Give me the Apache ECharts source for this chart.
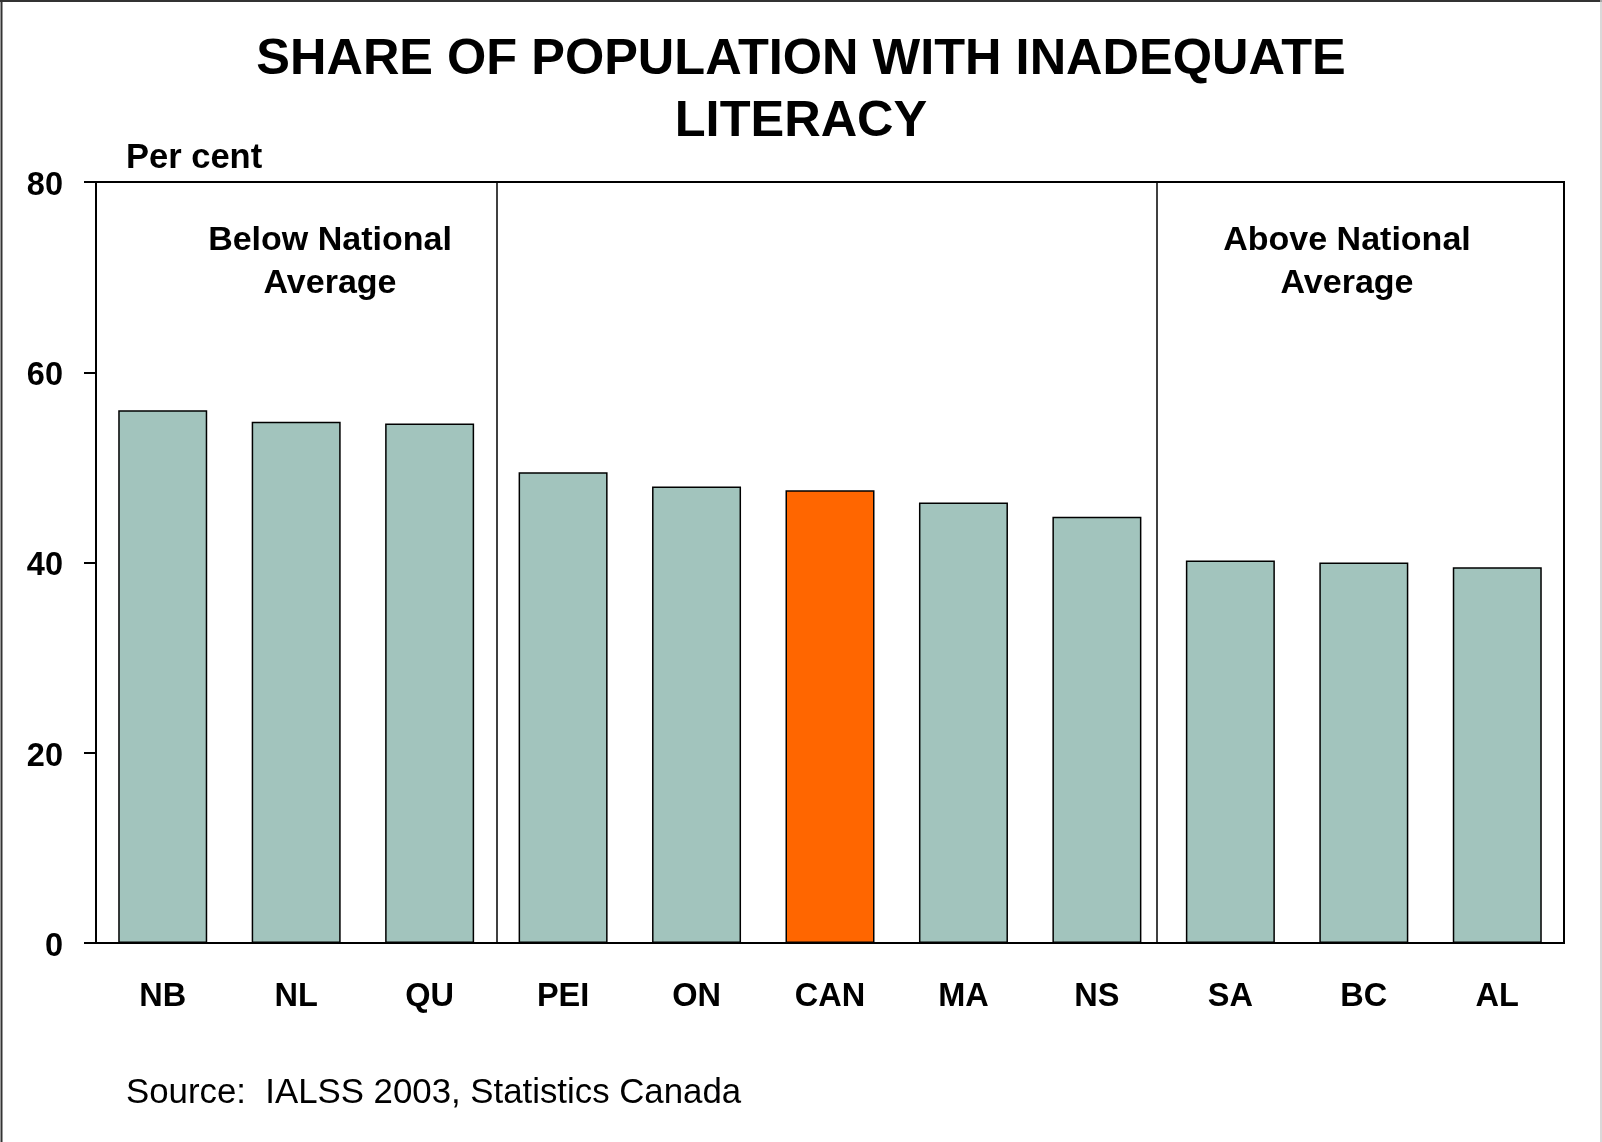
<!DOCTYPE html>
<html>
<head>
<meta charset="utf-8">
<title>Share of population with inadequate literacy</title>
<script src="https://cdn.jsdelivr.net/npm/echarts@6/dist/echarts.min.js"></script>
<style>
    html, body {
        margin: 0;
        padding: 0;
        background: #fff;
    }
    #literacyChart {
        width: 1602px;
        height: 1142px;
    }
</style>
</head>
<body>
<div id="literacyChart"></div>
<script>
// 省份/地区
const provinces = ['NB', 'NL', 'QU', 'PEI', 'ON', 'CAN', 'MA', 'NS', 'SA', 'BC', 'AL'];
// 百分比
const literacyShare = [56.0, 54.8, 54.6, 49.5, 48.0, 47.6, 46.3, 44.8, 40.2, 40.0, 39.5];
// y 轴刻度
const yTicks = [0, 20, 40, 60, 80];
// 分组分隔线的位置（按类别计）
const dividers = [3, 7.95];
const groupNotes = ['Below National\nAverage', 'Above National\nAverage'];

const FONT = '"Liberation Sans", Arial, sans-serif';
const BAR_COLOR = '#A2C4BD';
const NATIONAL_COLOR = '#FF6600';

let myChart = echarts.init(document.getElementById('literacyChart'));

let barData = literacyShare.map((v, i) => ({
    value: v,
    itemStyle: {
        color: provinces[i] === 'CAN' ? NATIONAL_COLOR : BAR_COLOR
    }
}));

myChart.setOption({
    animation: false,
    backgroundColor: '#fff',
    textStyle: { fontFamily: FONT },
    title: {
        text: 'SHARE OF POPULATION WITH INADEQUATE\nLITERACY',
        left: 'center',
        top: 24,
        textStyle: {
            fontFamily: FONT,
            fontSize: 50.5,
            fontWeight: 'bold',
            color: '#000',
            lineHeight: 62
        }
    },
    grid: {
        left: 96,
        right: 38,
        top: 182,
        bottom: 199,
        show: true,
        borderColor: '#000',
        borderWidth: 2,
        backgroundColor: 'transparent'
    },
    xAxis: [{
        type: 'category',
        data: provinces,
        axisLine: { lineStyle: { color: '#000', width: 2 } },
        axisTick: { show: false },
        axisLabel: {
            color: '#000',
            fontFamily: FONT,
            fontSize: 32.5,
            fontWeight: 'bold',
            margin: 38
        }
    }, {
        // 仅用于画分隔线
        type: 'value',
        min: 0,
        max: provinces.length,
        show: false
    }],
    yAxis: {
        type: 'value',
        min: yTicks[0],
        max: yTicks[yTicks.length - 1],
        interval: 20,
        splitLine: { show: false },
        axisLine: { show: true, lineStyle: { color: '#000', width: 2 } },
        axisTick: { show: true, length: 12, lineStyle: { color: '#000', width: 2 } },
        axisLabel: {
            color: '#000',
            margin: 33,
            formatter: '{v|{value}}',
            rich: {
                v: {
                    fontFamily: FONT,
                    fontSize: 32.5,
                    fontWeight: 'bold',
                    color: '#000',
                    padding: [8, 0, 0, 0]
                }
            }
        }
    },
    series: [{
        type: 'bar',
        data: barData,
        barWidth: 89,
        itemStyle: {
            borderColor: '#000',
            borderWidth: 1.5
        }
    }, {
        type: 'line',
        xAxisIndex: 1,
        data: [],
        silent: true,
        markLine: {
            silent: true,
            symbol: 'none',
            label: { show: false },
            lineStyle: { color: '#000', width: 1.5, type: 'solid' },
            data: dividers.map(d => ({ xAxis: d }))
        }
    }],
    graphic: [
        {
            type: 'text',
            left: 126,
            top: 141,
            style: {
                text: 'Per cent',
                font: 'bold 34.5px ' + FONT,
                fill: '#000'
            }
        },
        {
            type: 'text',
            x: 330,
            y: 262,
            style: {
                text: groupNotes[0],
                font: 'bold 34px ' + FONT,
                fill: '#000',
                align: 'center',
                verticalAlign: 'middle',
                lineHeight: 43
            }
        },
        {
            type: 'text',
            x: 1347,
            y: 262,
            style: {
                text: groupNotes[1],
                font: 'bold 34px ' + FONT,
                fill: '#000',
                align: 'center',
                verticalAlign: 'middle',
                lineHeight: 43
            }
        },
        {
            type: 'text',
            x: 126,
            y: 1093,
            style: {
                text: 'Source:  IALSS 2003, Statistics Canada',
                font: '34.8px ' + FONT,
                fill: '#000',
                verticalAlign: 'middle'
            }
        },
        // 外框
        {
            type: 'line',
            shape: { x1: 0, y1: 1, x2: 1602, y2: 1 },
            style: { stroke: '#333', lineWidth: 2 }
        },
        {
            type: 'line',
            shape: { x1: 1.5, y1: 0, x2: 1.5, y2: 1142 },
            style: { stroke: '#333', lineWidth: 2 }
        },
        {
            type: 'line',
            shape: { x1: 1601, y1: 0, x2: 1601, y2: 1142 },
            style: { stroke: '#ccc', lineWidth: 1.5 }
        }
    ]
});
</script>
</body>
</html>
